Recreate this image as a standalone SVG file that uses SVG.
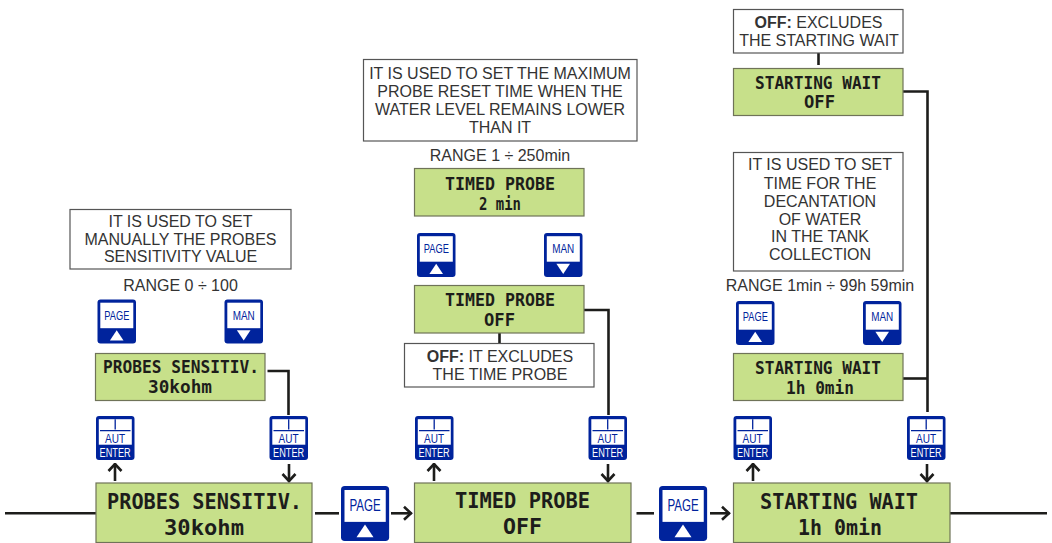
<svg xmlns="http://www.w3.org/2000/svg" xmlns:xlink="http://www.w3.org/1999/xlink" width="1052" height="543" viewBox="0 0 1052 543">
<style>
.lcd{fill:#c7e08a;stroke:#6f7358;stroke-width:1.2}
.l{font-family:"DejaVu Sans Mono","Liberation Mono",monospace;font-weight:700;fill:#1d1d1b}
.s{font-size:18px}
.b{font-size:22px}
.note{fill:#fff;stroke:#555;stroke-width:1.2}
.t{font-family:"Liberation Sans",Arial,sans-serif;font-size:16px;fill:#333;text-anchor:middle}
.w{fill:none;stroke:#1d1d1b;stroke-width:2.6}
.k{font-family:"Liberation Sans",Arial,sans-serif;font-size:12.500px;fill:#00239c}
.ke{font-family:"Liberation Sans",Arial,sans-serif;font-size:12.500px;fill:#fff}
</style>
<defs>
<g id="up"><rect width="38.500" height="44" rx="3" fill="#00239c"/><rect x="2.800" y="3.200" width="33" height="25.500" fill="#fff"/><path d="M19.200 30.700L26 41H12.400Z" fill="#fff"/></g>
<g id="down"><rect width="38.500" height="44" rx="3" fill="#00239c"/><rect x="2.800" y="3.200" width="33" height="25.500" fill="#fff"/><path d="M19.200 41L26 30.700H12.400Z" fill="#fff"/></g>
<g id="page"><use href="#up"/><text class="k" x="6.800" y="20" textLength="25" lengthAdjust="spacingAndGlyphs">PAGE</text></g>
<g id="man"><use href="#down"/><text class="k" x="8.200" y="20" textLength="22" lengthAdjust="spacingAndGlyphs">MAN</text></g>
<g id="aut"><rect width="38.500" height="44" rx="3" fill="#00239c"/><rect x="2.800" y="3.200" width="33" height="25.500" fill="#fff"/><path d="M4 14.700H34.500M19.200 3.200V13.500" fill="none" stroke="#00239c" stroke-width="1.300"/><text class="k" x="9" y="26.500" textLength="20" lengthAdjust="spacingAndGlyphs">AUT</text><text class="ke" x="3.600" y="40.500" textLength="31" lengthAdjust="spacingAndGlyphs">ENTER</text></g>
<marker id="a" viewBox="0 0 10 16" refX="9" refY="8" markerWidth="10" markerHeight="16" markerUnits="userSpaceOnUse" orient="auto"><path d="M1.500 1.500L8.500 8L1.500 14.500" fill="none" stroke="#1d1d1b" stroke-width="2.600"/></marker>
</defs>

<g id="connectors">
<path class="w" d="M5 513.300H96"/>
<path class="w" d="M315 513.300H339"/>
<path class="w" d="M391 513.300H411.500" marker-end="url(#a)"/>
<path class="w" d="M636.500 513.300H654"/>
<path class="w" d="M710 513.300H729.500" marker-end="url(#a)"/>
<path class="w" d="M950 513.300H1047"/>
<path class="w" d="M267.500 371H288.500V415"/>
<path class="w" d="M584 310H608.500V415"/>
<path class="w" d="M903 91.500H927.500V412"/>
<path class="w" d="M903 378.500H927"/>
<path class="w" d="M499.500 333V343"/>
<path class="w" d="M818.500 53V65"/>
<path class="w" d="M115 481V463.500" marker-end="url(#a)"/>
<path class="w" d="M289 464V481.500" marker-end="url(#a)"/>
<path class="w" d="M434 481V463.500" marker-end="url(#a)"/>
<path class="w" d="M608 464V481.500" marker-end="url(#a)"/>
<path class="w" d="M753 481V463.500" marker-end="url(#a)"/>
<path class="w" d="M927 464V481.500" marker-end="url(#a)"/>
</g>

<g id="note-sensitivity"><rect class="note" x="70" y="209.500" width="221" height="59.500"/>
<text class="t" x="180.500" y="227">IT IS USED TO SET</text><text class="t" x="180.500" y="245">MANUALLY THE PROBES</text><text class="t" x="180.500" y="262">SENSITIVITY VALUE</text></g>
<text id="range-sensitivity" class="t" x="180.500" y="291">RANGE 0 ÷ 100</text>
<g id="btn-page-1"><use href="#page" x="97.500" y="299.500"/></g>
<g id="btn-man-1"><use href="#man" x="224.500" y="299.500"/></g>
<g id="lcd-sensitivity-small"><rect class="lcd" x="95.500" y="353.500" width="169.500" height="47"/>
<text class="l s" x="103" y="373" textLength="156" lengthAdjust="spacingAndGlyphs">PROBES SENSITIV.</text><text class="l s" x="148" y="393" textLength="64" lengthAdjust="spacingAndGlyphs">30kohm</text></g>
<g id="btn-aut-1a"><use href="#aut" x="96" y="416"/></g>
<g id="btn-aut-1b"><use href="#aut" x="269.500" y="416"/></g>
<g id="lcd-sensitivity"><rect class="lcd" x="96" y="483" width="216" height="59.500"/>
<text class="l b" x="107" y="509" textLength="195" lengthAdjust="spacingAndGlyphs">PROBES SENSITIV.</text><text class="l b" x="164" y="535" textLength="80" lengthAdjust="spacingAndGlyphs">30kohm</text></g>
<g id="btn-page-big-1"><use href="#page" transform="translate(341 486) scale(1.25)"/></g>

<g id="note-timed"><rect class="note" x="363.500" y="59.500" width="273.500" height="81.500"/>
<text class="t" x="500" y="79">IT IS USED TO SET THE MAXIMUM</text><text class="t" x="500" y="97">PROBE RESET TIME WHEN THE</text><text class="t" x="500" y="115">WATER LEVEL REMAINS LOWER</text><text class="t" x="500" y="133">THAN IT</text></g>
<text id="range-timed" class="t" x="500" y="161">RANGE 1 ÷ 250min</text>
<g id="lcd-timed-2min"><rect class="lcd" x="414.500" y="168.500" width="169.500" height="47.500"/>
<text class="l s" x="445" y="190" textLength="110" lengthAdjust="spacingAndGlyphs">TIMED PROBE</text><text class="l s" x="479" y="210" textLength="42" lengthAdjust="spacingAndGlyphs">2 min</text></g>
<g id="btn-page-2"><use href="#page" x="417" y="233"/></g>
<g id="btn-man-2"><use href="#man" x="544" y="233"/></g>
<g id="lcd-timed-off-small"><rect class="lcd" x="414.500" y="285.500" width="169.500" height="47.500"/>
<text class="l s" x="445" y="306" textLength="110" lengthAdjust="spacingAndGlyphs">TIMED PROBE</text><text class="l s" x="484" y="326" textLength="31" lengthAdjust="spacingAndGlyphs">OFF</text></g>
<g id="note-timed-off"><rect class="note" x="404.500" y="343.500" width="189.500" height="43.500"/>
<text class="t" x="500" y="362"><tspan font-weight="700">OFF:</tspan> IT EXCLUDES</text><text class="t" x="500" y="380">THE TIME PROBE</text></g>
<g id="btn-aut-2a"><use href="#aut" x="415" y="416"/></g>
<g id="btn-aut-2b"><use href="#aut" x="588.500" y="416"/></g>
<g id="lcd-timed"><rect class="lcd" x="414.500" y="483" width="216.500" height="59.500"/>
<text class="l b" x="455" y="508" textLength="135" lengthAdjust="spacingAndGlyphs">TIMED PROBE</text><text class="l b" x="503" y="534" textLength="39" lengthAdjust="spacingAndGlyphs">OFF</text></g>
<g id="btn-page-big-2"><use href="#page" transform="translate(659 486) scale(1.25)"/></g>

<g id="note-wait-off"><rect class="note" x="733.500" y="9.500" width="169.500" height="43.500"/>
<text class="t" x="818.500" y="28"><tspan font-weight="700">OFF:</tspan> EXCLUDES</text><text class="t" x="819" y="46">THE STARTING WAIT</text></g>
<g id="lcd-wait-off-small"><rect class="lcd" x="733.500" y="68.500" width="169.500" height="47"/>
<text class="l s" x="755" y="89" textLength="126" lengthAdjust="spacingAndGlyphs">STARTING WAIT</text><text class="l s" x="804" y="108" textLength="31" lengthAdjust="spacingAndGlyphs">OFF</text></g>
<g id="note-wait"><rect class="note" x="733.500" y="152.500" width="169.500" height="118.500"/>
<text class="t" x="820" y="170">IT IS USED TO SET</text><text class="t" x="820" y="189">TIME FOR THE</text><text class="t" x="820" y="207">DECANTATION</text><text class="t" x="820" y="225">OF WATER</text><text class="t" x="820" y="242">IN THE TANK</text><text class="t" x="820" y="260">COLLECTION</text></g>
<text id="range-wait" class="t" x="820" y="291">RANGE 1min ÷ 99h 59min</text>
<g id="btn-page-3"><use href="#page" x="736" y="301"/></g>
<g id="btn-man-3"><use href="#man" x="863" y="301"/></g>
<g id="lcd-wait-small"><rect class="lcd" x="733.500" y="353.500" width="169.500" height="47"/>
<text class="l s" x="755" y="374" textLength="126" lengthAdjust="spacingAndGlyphs">STARTING WAIT</text><text class="l s" x="786" y="394" textLength="68" lengthAdjust="spacingAndGlyphs">1h 0min</text></g>
<g id="btn-aut-3a"><use href="#aut" x="733.500" y="416"/></g>
<g id="btn-aut-3b"><use href="#aut" x="907" y="416"/></g>
<g id="lcd-wait"><rect class="lcd" x="733.500" y="483" width="216.500" height="59.500"/>
<text class="l b" x="760" y="509" textLength="158" lengthAdjust="spacingAndGlyphs">STARTING WAIT</text><text class="l b" x="798" y="535" textLength="84" lengthAdjust="spacingAndGlyphs">1h 0min</text></g>
</svg>
